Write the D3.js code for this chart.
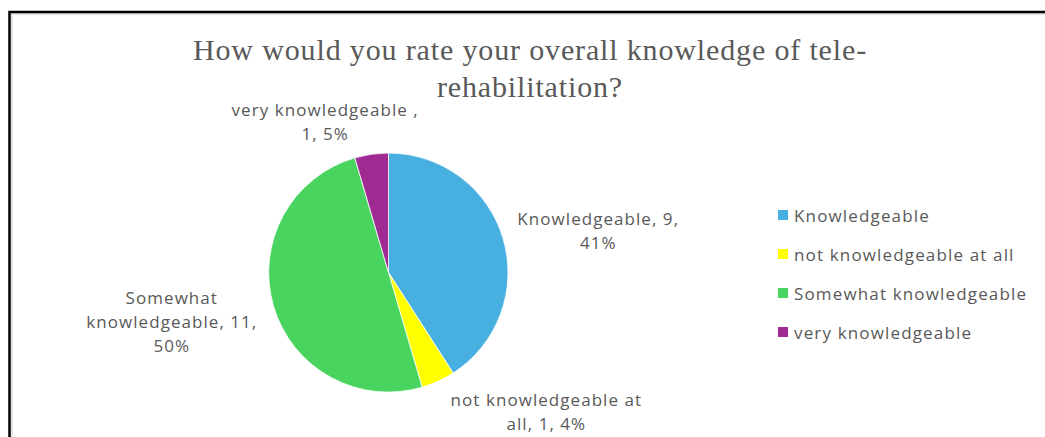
<!DOCTYPE html>
<html>
<head>
<meta charset="utf-8">
<script src="https://cdn.jsdelivr.net/npm/d3@7"></script>
<style>
  html, body { margin: 0; padding: 0; background: #fff; overflow: hidden; }
  svg { display: block; }
</style>
</head>
<body>
<svg id="chart" width="1045" height="437"></svg>
<script>
// Survey responses: knowledge of tele-rehabilitation
const categories = ["Knowledgeable", "not knowledgeable at all", "Somewhat knowledgeable", "very knowledgeable"];
const counts = [9, 1, 11, 1];
const percentLabels = ["41%", "4%", "50%", "5%"];
const colors = ["#48B0E0", "#FFFF00", "#48D45E", "#9E2A92"];
const titleLines = ["How would you rate your overall knowledge  of tele-", "rehabilitation?"];

// Data label text, split into lines as laid out around the pie
const labelLines = [
  ["Knowledgeable, 9,", "41%"],
  ["not knowledgeable at", "all, 1, 4%"],
  ["Somewhat", "knowledgeable, 11,", "50%"],
  ["very knowledgeable ,", "1, 5%"]
];
// Label anchor points (first-line baseline centre), polar around the pie centre
const labelPolar = [
  { angle: 77.3, dist: 215 },   // degrees clockwise from 12 o'clock
  { angle: 130.3, dist: 207 },
  { angle: 261.7, dist: 219 },
  { angle: 338, dist: 169 }
];

const svg = d3.select("#chart");
const W = 1045, H = 437;

// Chart frame
svg.append("rect")
  .attr("x", 12).attr("y", 14).attr("width", W + 50).attr("height", H + 50)
  .attr("fill", "none").attr("stroke", "#e3e3e3").attr("stroke-width", 2);
svg.append("rect")
  .attr("x", 9.5).attr("y", 12).attr("width", W + 50).attr("height", H + 50)
  .attr("fill", "none").attr("stroke", "#000").attr("stroke-width", 2.5);

// Title
const title = svg.append("text")
  .attr("text-anchor", "middle")
  .attr("font-family", "'Liberation Serif', 'Times New Roman', serif")
  .attr("font-size", 30)
  .attr("letter-spacing", 0.85)
  .attr("fill", "#595959");
titleLines.forEach((t, i) => {
  title.append("tspan").attr("x", 530).attr("y", 60 + i * 37).text(t);
});

// Pie
const cx = 388.5, cy = 272.5, radius = 119.5;
const pie = d3.pie().sort(null).value(d => d)(counts);
const arc = d3.arc().innerRadius(0).outerRadius(radius);
const g = svg.append("g").attr("transform", `translate(${cx},${cy})`);
g.selectAll("path")
  .data(pie)
  .join("path")
  .attr("d", arc)
  .attr("fill", (d, i) => colors[i])
  .attr("stroke", "#fff")
  .attr("stroke-width", 0.8);

// Data labels
const fontSans = "'Open Sans', 'Noto Sans', sans-serif";
labelLines.forEach((lines, i) => {
  const a = labelPolar[i].angle * Math.PI / 180;
  const x = cx + Math.sin(a) * labelPolar[i].dist;
  const y = cy - Math.cos(a) * labelPolar[i].dist;
  const t = svg.append("text")
    .attr("text-anchor", "middle")
    .attr("font-family", fontSans)
    .attr("font-size", 17)
    .attr("letter-spacing", 1.05)
    .attr("fill", "#595959");
  lines.forEach((ln, j) => {
    t.append("tspan").attr("x", x).attr("y", y + j * 24).text(ln);
  });
});

// Legend
const legend = svg.append("g").attr("transform", "translate(778,210)");
const rows = legend.selectAll("g")
  .data(categories)
  .join("g")
  .attr("transform", (d, i) => `translate(0,${i * 39})`);
rows.append("rect")
  .attr("width", 10).attr("height", 10)
  .attr("fill", (d, i) => colors[i]);
rows.append("text")
  .attr("x", 16).attr("y", 12)
  .attr("font-family", fontSans)
  .attr("font-size", 17)
  .attr("letter-spacing", 1.15)
  .attr("fill", "#595959")
  .text(d => d);
</script>
</body>
</html>
